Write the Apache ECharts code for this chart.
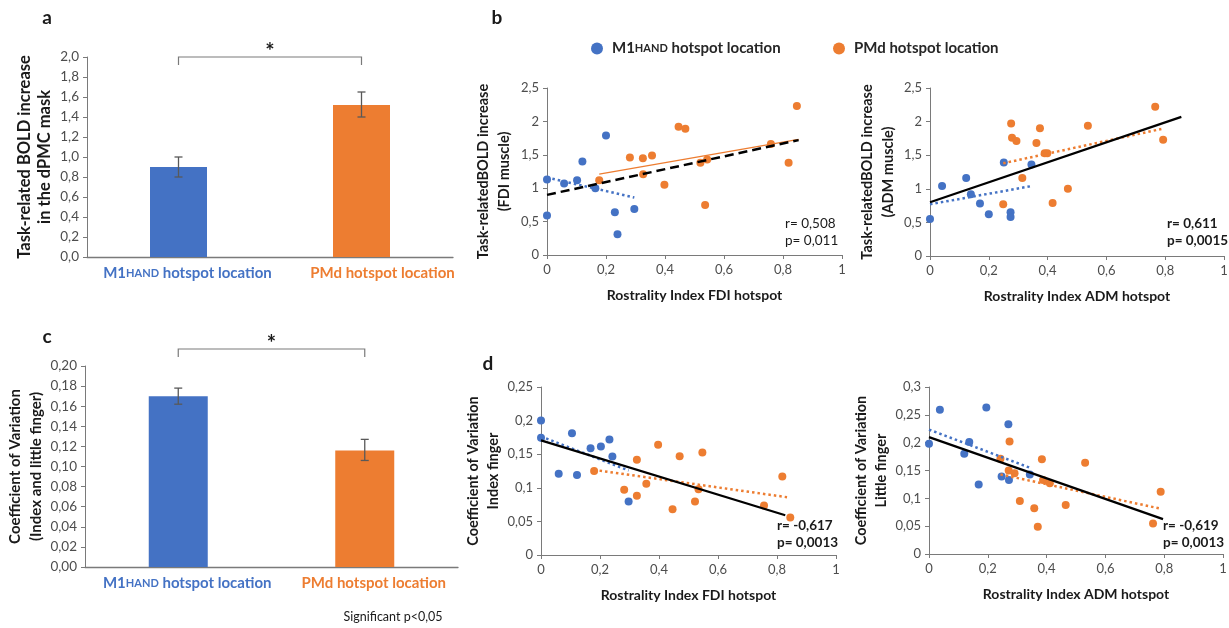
<!DOCTYPE html>
<html><head><meta charset="utf-8">
<script src="https://cdn.jsdelivr.net/npm/echarts@6/dist/echarts.min.js"></script>
<style>html,body{margin:0;padding:0;background:#fff}#c{width:1229px;height:628px}</style>
</head><body><div id="c"></div>
<script>
// ---------- DATA ----------
const barCategories = ['M1HAND hotspot location', 'PMd hotspot location'];
const boldMeans = [0.90, 1.52];
const boldErrLow = [0.80, 1.40];
const boldErrHigh = [1.00, 1.65];
const cvMeans = [0.170, 0.116];
const cvErrLow = [0.162, 0.106];
const cvErrHigh = [0.178, 0.127];

// b (left): Rostrality Index FDI hotspot vs BOLD (FDI muscle)
const fdiBoldM1 = [[0,0.59],[0,1.13],[0.058,1.07],[0.102,1.12],[0.12,1.40],[0.20,1.79],[0.164,1.00],[0.23,0.64],[0.239,0.31],[0.296,0.69]];
const fdiBoldPMd = [[0.177,1.12],[0.281,1.46],[0.325,1.45],[0.326,1.21],[0.356,1.49],[0.398,1.05],[0.446,1.92],[0.469,1.89],[0.536,0.75],[0.52,1.38],[0.543,1.43],[0.759,1.66],[0.819,1.38],[0.847,2.23]];
const fdiBoldTrendAll = [[0,0.90],[0.853,1.72]];
const fdiBoldTrendM1 = [[0,1.16],[0.296,0.86]];
const fdiBoldTrendPMd = [[0.177,1.21],[0.853,1.73]];

// b (right): Rostrality Index ADM hotspot vs BOLD (ADM muscle)
const admBoldM1 = [[0,0.55],[0.041,1.04],[0.123,1.16],[0.139,0.92],[0.17,0.78],[0.2,0.62],[0.251,1.39],[0.274,0.65],[0.274,0.58],[0.345,1.36]];
const admBoldPMd = [[0.249,0.77],[0.276,1.97],[0.279,1.76],[0.294,1.71],[0.314,1.16],[0.362,1.68],[0.374,1.90],[0.39,1.53],[0.399,1.53],[0.417,0.79],[0.469,1.00],[0.537,1.94],[0.766,2.22],[0.793,1.73]];
const admBoldTrendAll = [[0,0.80],[0.855,2.07]];
const admBoldTrendM1 = [[0,0.77],[0.345,1.04]];
const admBoldTrendPMd = [[0.249,1.38],[0.787,1.89]];

// d (left): Rostrality Index FDI hotspot vs CV index finger
const fdiCvM1 = [[0,0.200],[0,0.1745],[0.06,0.121],[0.105,0.181],[0.122,0.119],[0.168,0.159],[0.203,0.1615],[0.232,0.172],[0.242,0.1466],[0.297,0.0795]];
const fdiCvPMd = [[0.18,0.125],[0.282,0.097],[0.325,0.1417],[0.325,0.088],[0.357,0.106],[0.397,0.164],[0.446,0.068],[0.47,0.147],[0.522,0.0795],[0.534,0.098],[0.547,0.1526],[0.756,0.0736],[0.818,0.117],[0.845,0.0557]];
const fdiCvTrendAll = [[0,0.1705],[0.828,0.0592]];
const fdiCvTrendM1 = [[0,0.1764],[0.297,0.1258]];
const fdiCvTrendPMd = [[0.18,0.1267],[0.834,0.086]];

// d (right): Rostrality Index ADM hotspot vs CV little finger
const admCvM1 = [[0,0.198],[0.037,0.259],[0.12,0.180],[0.137,0.201],[0.169,0.125],[0.195,0.263],[0.247,0.139],[0.27,0.233],[0.272,0.133],[0.343,0.143]];
const admCvPMd = [[0.243,0.171],[0.274,0.202],[0.271,0.150],[0.291,0.145],[0.309,0.095],[0.358,0.082],[0.37,0.049],[0.384,0.170],[0.388,0.133],[0.411,0.127],[0.465,0.088],[0.531,0.164],[0.762,0.055],[0.788,0.112]];
const admCvTrendAll = [[0,0.210],[0.796,0.0627]];
const admCvTrendM1 = [[0,0.2235],[0.343,0.155]];
const admCvTrendPMd = [[0.243,0.143],[0.783,0.082]];

const statsFdiBold = ['r= 0,508', 'p= 0,011'];
const statsAdmBold = ['r= 0,611', 'p= 0,0015'];
const statsFdiCv = ['r= -0,617', 'p= 0,0013'];
const statsAdmCv = ['r= -0,619', 'p= 0,0013'];

// ---------- STYLE ----------
const FONT = 'Lato, "Open Sans", sans-serif';
const BLUE = '#4472C4', ORANGE = '#ED7D31';
const AXIS = '#7a7a7a', TICKTXT = '#4d4d4d', TITLE = '#1a1a1a';

function commaNum(v, d) {
  if (d !== undefined) return v.toFixed(d).replace('.', ',');
  return String(parseFloat(v.toFixed(4))).replace('.', ',');
}
const axisLineStyle = { show: true, lineStyle: { color: AXIS, width: 1 } };
const axisTickStyle = { show: true, length: 4, lineStyle: { color: AXIS } };
const tickLabel = (fmt, size) => ({ color: TICKTXT, fontSize: size || 13, fontFamily: FONT, margin: 8, formatter: fmt });
const nameStyle = (lh, size) => ({ color: TITLE, fontSize: size || 14, fontWeight: 'bold', fontFamily: FONT, lineHeight: lh || 20 });

const grids = [
  { left: 87, top: 57, width: 366, height: 200 },   // a
  { left: 85, top: 366, width: 373, height: 201 },  // c
  { left: 547, top: 88, width: 295, height: 167 },  // b left
  { left: 930, top: 88, width: 294, height: 168 },  // b right
  { left: 541, top: 387, width: 295, height: 168 }, // d left
  { left: 929, top: 387, width: 294, height: 167 }  // d right
].map(g => Object.assign({ containLabel: false, outerBoundsMode: 'none' }, g));

function catLabel(padBlue, padOrange, margin) {
  return {
    interval: 0, color: BLUE, fontSize: 15, fontWeight: 'bold', fontFamily: FONT, margin: margin,
    formatter: v => v === barCategories[0] ? '{b|M1}{bs|HAND}{b| hotspot location}' : '{o|PMd hotspot location}',
    rich: {
      b: { color: BLUE, fontSize: 15, fontWeight: 'bold', fontFamily: FONT },
      bs: { color: BLUE, fontSize: 11, fontWeight: 'bold', fontFamily: FONT },
      o: { color: ORANGE, fontSize: 15, fontWeight: 'bold', fontFamily: FONT, padding: [0, 0, 0, padOrange] }
    },
    padding: [0, 0, 0, padBlue]
  };
}

const xAxes = [
  { gridIndex: 0, type: 'category', data: barCategories, axisLine: { lineStyle: { color: AXIS, width: 1.3 } }, axisTick: { show: false }, axisLabel: catLabel(18, 24, 9) },
  { gridIndex: 1, type: 'category', data: barCategories, axisLine: { lineStyle: { color: AXIS, width: 1.3 } }, axisTick: { show: false }, axisLabel: catLabel(18, 0, 9) },
];
const scatterX = (gi, name) => ({
  gridIndex: gi, type: 'value', min: 0, max: 1, interval: 0.2,
  axisLine: axisLineStyle, axisTick: axisTickStyle, splitLine: { show: false },
  axisLabel: tickLabel(v => commaNum(v)),
  name: name, nameLocation: 'middle', nameGap: 32, nameTextStyle: nameStyle(17)
});
xAxes.push(scatterX(2, 'Rostrality Index FDI hotspot'));
xAxes.push(scatterX(3, 'Rostrality Index ADM hotspot'));
xAxes.push(scatterX(4, 'Rostrality Index FDI hotspot'));
xAxes.push(scatterX(5, 'Rostrality Index ADM hotspot'));

const yAx = (gi, min, max, interval, fmt, name, gap, lh, fs, ls) => ({
  gridIndex: gi, type: 'value', min, max, interval,
  axisLine: axisLineStyle, axisTick: axisTickStyle, splitLine: { show: false },
  axisLabel: tickLabel(fmt, ls),
  name, nameLocation: 'middle', nameGap: gap, nameRotate: 90, nameTextStyle: nameStyle(lh, fs)
});
const yAxes = [
  yAx(0, 0, 2, 0.2, v => commaNum(v, 1), 'Task-related BOLD increase\nin the dPMC mask', 32, 20, 16.5, 13.5),
  yAx(1, 0, 0.2, 0.02, v => commaNum(v, 2), 'Coefficient of Variation\n(Index and little finger)', 37, 21, 15, 13.5),
  yAx(2, 0, 2.5, 0.5, v => commaNum(v), 'Task-relatedBOLD increase\n(FDI muscle)', 32, 21, 14.5),
  yAx(3, 0, 2.5, 0.5, v => commaNum(v), 'Task-relatedBOLD increase\n(ADM muscle)', 31, 21, 14.5),
  yAx(4, 0, 0.25, 0.05, v => commaNum(v), 'Coefficient of Variation\nIndex finger', 38, 20, 14.5),
  yAx(5, 0, 0.3, 0.05, v => commaNum(v), 'Coefficient of Variation\nLittle finger', 36, 20, 14.5)
];

function barSeries(idx, means, bw) {
  return {
    type: 'bar', xAxisIndex: idx, yAxisIndex: idx, barWidth: bw, silent: true,
    data: means.map((m, i) => ({ value: m, itemStyle: { color: i === 0 ? BLUE : ORANGE } }))
  };
}
function errSeries(idx, lo, hi) {
  return {
    type: 'custom', xAxisIndex: idx, yAxisIndex: idx, silent: true, z: 5,
    data: lo.map((l, i) => [i, l, hi[i]]),
    encode: { x: 0, y: [1, 2] },
    renderItem: (params, api) => {
      const a = api.coord([api.value(0), api.value(1)]);
      const b = api.coord([api.value(0), api.value(2)]);
      const w = 4, st = { stroke: '#595959', lineWidth: 1.3 };
      return { type: 'group', children: [
        { type: 'line', shape: { x1: a[0], y1: a[1], x2: b[0], y2: b[1] }, style: st },
        { type: 'line', shape: { x1: a[0] - w, y1: a[1], x2: a[0] + w, y2: a[1] }, style: st },
        { type: 'line', shape: { x1: b[0] - w, y1: b[1], x2: b[0] + w, y2: b[1] }, style: st }
      ]};
    }
  };
}
function bracketSeries(idx, top, leg) {
  return {
    type: 'custom', xAxisIndex: idx, yAxisIndex: idx, silent: true, clip: false, z: 6,
    data: [[0, top]],
    renderItem: (params, api) => {
      const p0 = api.coord([0, top]), p1 = api.coord([1, top]);
      const l0 = api.coord([0, leg]), l1 = api.coord([1, leg]);
      return { type: 'group', children: [
        { type: 'polyline', shape: { points: [l0, p0, p1, l1] }, style: { stroke: '#7a7a7a', lineWidth: 1.2, fill: null } },
        { type: 'text', x: (p0[0] + p1[0]) / 2, y: p0[1] - 5, style: { text: '*', fontSize: 22, fontWeight: 'bold', fontFamily: FONT, fill: '#1a1a1a', align: 'center', verticalAlign: 'middle' } }
      ]};
    }
  };
}
function scat(idx, name, data, color) {
  return { type: 'scatter', name, xAxisIndex: idx, yAxisIndex: idx, data, symbolSize: 8, itemStyle: { color, opacity: 1 }, z: 3, silent: true };
}
function trend(idx, data, color, width, type) {
  return { type: 'line', xAxisIndex: idx, yAxisIndex: idx, data, symbol: 'none', silent: true, z: 4,
    lineStyle: { color, width, type, cap: 'butt' } };
}
const DOT = [2.5, 3];
const series = [
  barSeries(0, boldMeans, 57), errSeries(0, boldErrLow, boldErrHigh), bracketSeries(0, 2.0, 1.92),
  barSeries(1, cvMeans, 59), errSeries(1, cvErrLow, cvErrHigh), bracketSeries(1, 0.2169, 0.209),

  scat(2, barCategories[0], fdiBoldM1, BLUE), scat(2, barCategories[1], fdiBoldPMd, ORANGE),
  trend(2, fdiBoldTrendM1, BLUE, 2.5, DOT), trend(2, fdiBoldTrendPMd, ORANGE, 1.3, 'solid'), trend(2, fdiBoldTrendAll, '#000', 2.5, [9, 5]),

  scat(3, barCategories[0], admBoldM1, BLUE), scat(3, barCategories[1], admBoldPMd, ORANGE),
  trend(3, admBoldTrendM1, BLUE, 2.5, DOT), trend(3, admBoldTrendPMd, ORANGE, 2.5, DOT), trend(3, admBoldTrendAll, '#000', 2.2, 'solid'),

  scat(4, barCategories[0], fdiCvM1, BLUE), scat(4, barCategories[1], fdiCvPMd, ORANGE),
  trend(4, fdiCvTrendM1, BLUE, 2.5, DOT), trend(4, fdiCvTrendPMd, ORANGE, 2.5, DOT), trend(4, fdiCvTrendAll, '#000', 2.2, 'solid'),

  scat(5, barCategories[0], admCvM1, BLUE), scat(5, barCategories[1], admCvPMd, ORANGE),
  trend(5, admCvTrendM1, BLUE, 2.5, DOT), trend(5, admCvTrendPMd, ORANGE, 2.5, DOT), trend(5, admCvTrendAll, '#000', 2.2, 'solid')
];

const legendText = {
  fontSize: 15, fontWeight: 'bold', fontFamily: FONT, color: '#262626', padding: [0, 0, 0, 4],
  rich: {
    n: { fontSize: 15, fontWeight: 'bold', fontFamily: FONT, color: '#262626' },
    s: { fontSize: 11, fontWeight: 'bold', fontFamily: FONT, color: '#262626' }
  }
};
const legendFmt = name => name === barCategories[0] ? '{n|M1}{s|HAND}{n| hotspot location}' : '{n|PMd hotspot location}';
const legends = [
  { data: [barCategories[0]], left: 586, top: 36, icon: 'circle', itemWidth: 12, itemHeight: 12, selectedMode: false, textStyle: legendText, formatter: legendFmt },
  { data: [barCategories[1]], left: 828, top: 36, icon: 'circle', itemWidth: 12, itemHeight: 12, selectedMode: false, textStyle: legendText, formatter: legendFmt }
];

function txt(x, y, text, size, weight, align) {
  return { type: 'text', x, y, style: { text, fontSize: size, fontWeight: weight, fontFamily: FONT, fill: '#1a1a1a', align: align || 'center', verticalAlign: 'middle' } };
}
function statText(xc, y1, lines, bold) {
  return [txt(xc, y1, lines[0], 13.5, bold ? 'bold' : 'normal', 'left'), txt(xc, y1 + 17, lines[1], 13.5, bold ? 'bold' : 'normal', 'left')];
}
const graphics = [
  txt(47, 18, 'a', 19, 'bold'), txt(497, 18, 'b', 19, 'bold'),
  txt(47, 337, 'c', 19, 'bold'), txt(488, 364, 'd', 19, 'bold'),
  txt(393, 617, 'Significant p<0,05', 12.5, 'normal'),
  ...statText(785, 224, statsFdiBold, false),
  ...statText(1167, 224, statsAdmBold, true),
  ...statText(777, 526, statsFdiCv, true),
  ...statText(1163, 526, statsAdmCv, true)
];

const chart = echarts.init(document.getElementById('c'), null, { renderer: 'canvas' });
chart.setOption({
  animation: false,
  backgroundColor: '#fff',
  textStyle: { fontFamily: FONT },
  grid: grids, xAxis: xAxes, yAxis: yAxes, series, legend: legends,
  graphic: graphics
});
</script></body></html>
